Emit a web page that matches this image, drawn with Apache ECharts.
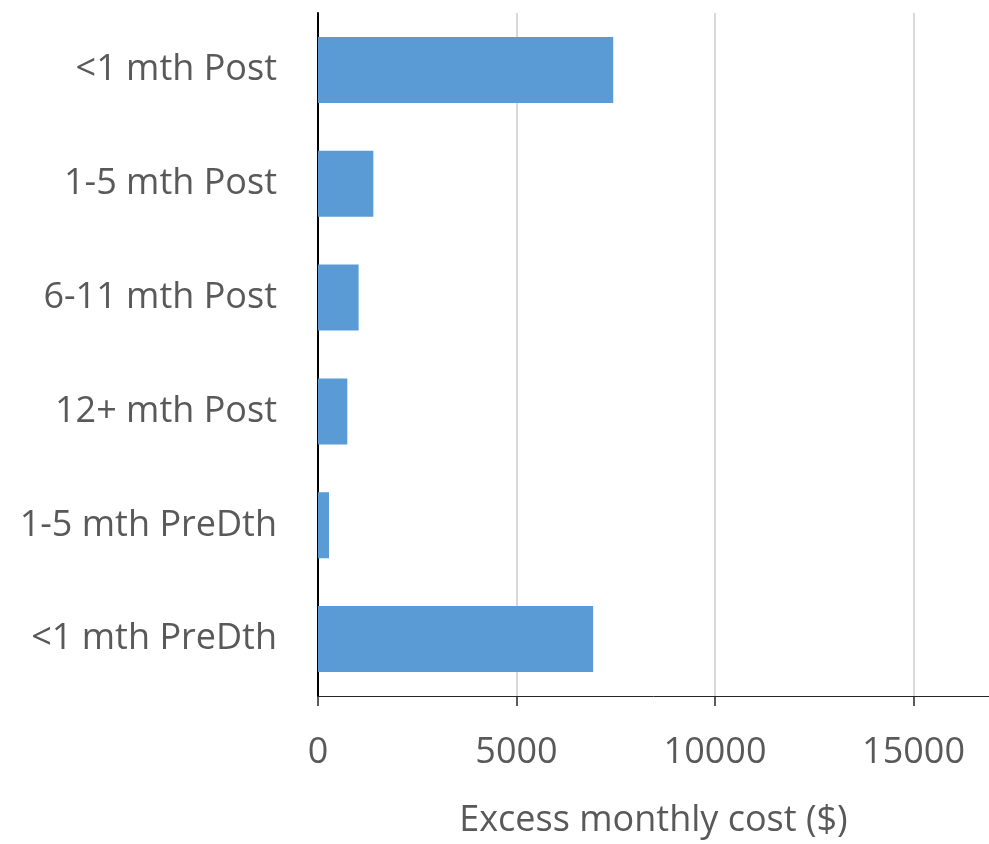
<!DOCTYPE html>
<html>
<head>
<meta charset="utf-8">
<script src="https://cdn.jsdelivr.net/npm/echarts@6/dist/echarts.min.js"></script>
<style>
html,body{margin:0;padding:0;background:#fff;}
#chart{width:989px;height:844px;}
</style>
</head>
<body>
<div id="chart"></div>
<script>
const categories = ['<1 mth Post', '1-5 mth Post', '6-11 mth Post', '12+ mth Post', '1-5 mth PreDth', '<1 mth PreDth'];
const values = [7435, 1394, 1023, 738, 277, 6930];
const axisTitle = 'Excess monthly cost ($)';

const chart = echarts.init(document.getElementById('chart'));
const FONT = 'Open Sans';
chart.setOption({
  animation: false,
  backgroundColor: '#fff',
  grid: { left: 318, right: 0, top: 13, bottom: 144, containLabel: false },
  xAxis: {
    type: 'value', min: 0, max: 16900, interval: 5000,
    name: axisTitle, nameLocation: 'middle', nameGap: 107,
    nameTextStyle: { color: '#595959', fontSize: 36, fontFamily: FONT },
    axisLine: { show: true, lineStyle: { color: '#262626', width: 1 } },
    axisTick: { show: true, length: 10, lineStyle: { color: '#262626', width: 1.5 },
      interval: (i, v) => v % 5000 === 0 },
    axisLabel: { color: '#595959', fontSize: 36, fontFamily: FONT, margin: 39, showMaxLabel: false,
      formatter: v => String(v) },
    splitLine: { show: true, showMaxLine: false, lineStyle: { color: '#d9d9d9', width: 2 } }
  },
  yAxis: {
    type: 'category', data: categories, inverse: true,
    axisLine: { show: true, lineStyle: { color: '#000', width: 2 } },
    axisTick: { show: false },
    axisLabel: { color: '#595959', fontSize: 36, fontFamily: FONT, margin: 41 }
  },
  series: [{
    type: 'bar', data: values, barCategoryGap: '42%',
    itemStyle: { color: '#5B9BD5' }
  }]
});
</script>
</body>
</html>
